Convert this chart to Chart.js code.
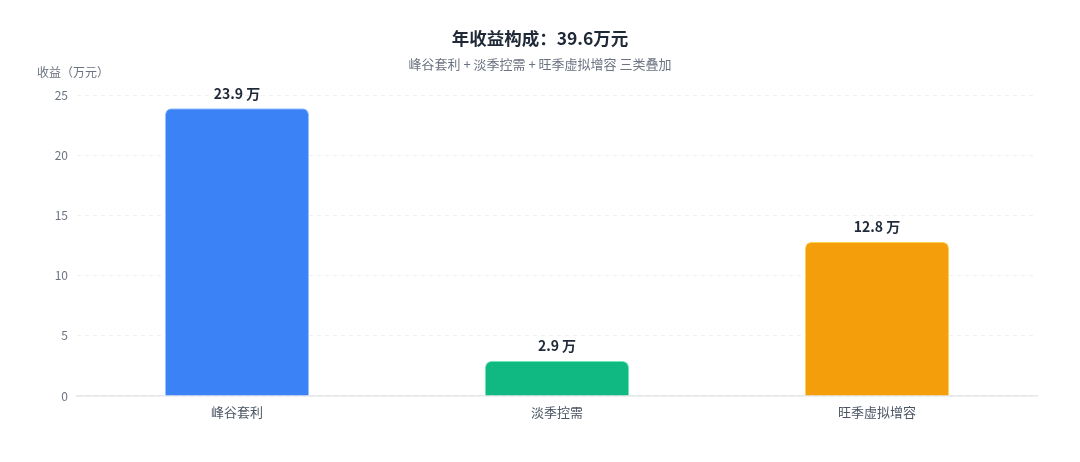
<!DOCTYPE html>
<html>
<head>
<meta charset="utf-8">
<script src="https://cdn.jsdelivr.net/npm/chart.js@4"></script>
<style>
html,body{margin:0;padding:0;background:#fff;}
#wrap{width:1080px;height:462px;}
</style>
</head>
<body>
<div id="wrap"><canvas id="c" width="1080" height="462"></canvas></div>
<script>
const categories = ['峰谷套利', '淡季控需', '旺季虚拟增容'];
const revenue = [23.9, 2.9, 12.8];
const barColors = ['#3b82f6', '#10b981', '#f59e0b'];
const borderColors = ['#93c5fd', '#6ee7b7', '#fcd34d'];
const yTicks = [0, 5, 10, 15, 20, 25];
const titleText = '年收益构成：39.6万元';
const subtitleText = '峰谷套利 + 淡季控需 + 旺季虚拟增容 三类叠加';
const yAxisName = '收益（万元）';
const unit = ' 万';

const FONT = '"Noto Sans CJK SC", "Noto Sans", sans-serif';
Chart.defaults.font.family = FONT;

const labelPlugin = {
  id: 'labels',
  afterDatasetsDraw(chart) {
    const ctx = chart.ctx;
    const meta = chart.getDatasetMeta(0);
    ctx.save();
    ctx.font = 'bold 14px ' + FONT;
    ctx.fillStyle = '#1f2937';
    ctx.textAlign = 'center';
    ctx.textBaseline = 'bottom';
    meta.data.forEach((bar, i) => {
      ctx.fillText(revenue[i].toFixed(1) + unit, bar.x, bar.y - 8);
    });
    ctx.restore();
  },
  afterDraw(chart) {
    const ctx = chart.ctx;
    const a = chart.chartArea;
    ctx.save();
    ctx.font = '12px ' + FONT;
    ctx.fillStyle = '#6b7280';
    ctx.textAlign = 'center';
    ctx.textBaseline = 'middle';
    ctx.fillText(yAxisName, a.left - 4, a.top - 23);
    ctx.restore();
  }
};

new Chart(document.getElementById('c'), {
  type: 'bar',
  data: {
    labels: categories,
    datasets: [{
      data: revenue,
      backgroundColor: barColors,
      borderColor: borderColors,
      borderWidth: 1,
      borderRadius: 6,
      borderSkipped: 'bottom',
      barPercentage: 0.9,
      categoryPercentage: 0.5
    }]
  },
  options: {
    responsive: false,
    animation: false,
    devicePixelRatio: 1,
    layout: { padding: { left: 43, right: 43, top: 0, bottom: 36 } },
    plugins: {
      legend: { display: false },
      tooltip: { enabled: false },
      title: {
        display: true,
        text: titleText,
        color: '#1f2937',
        font: { size: 17.5, weight: 'bold', family: FONT },
        padding: { top: 28.3, bottom: 6.6 }
      },
      subtitle: {
        display: true,
        text: subtitleText,
        color: '#6b7280',
        font: { size: 13, family: FONT },
        padding: { top: 0, bottom: 23.5 }
      }
    },
    scales: {
      x: {
        grid: { display: false },
        border: { display: true, color: '#e5e7eb', width: 1.5 },
        ticks: { color: '#4b5563', font: { size: 13 }, padding: 0 },
        afterFit(s) { s.height = 30; }
      },
      y: {
        min: 0,
        max: 25,
        afterBuildTicks(s) { s.ticks = yTicks.map(v => ({ value: v })); },
        grid: { color: '#f1f1f1', drawTicks: false, lineWidth: 1 },
        border: { display: false, dash: [4, 4] },
        ticks: { color: '#6b7280', font: { size: 12 }, padding: 9 },
        afterFit(s) { s.width = 34; }
      }
    }
  },
  plugins: [labelPlugin]
});
</script>
</body>
</html>
